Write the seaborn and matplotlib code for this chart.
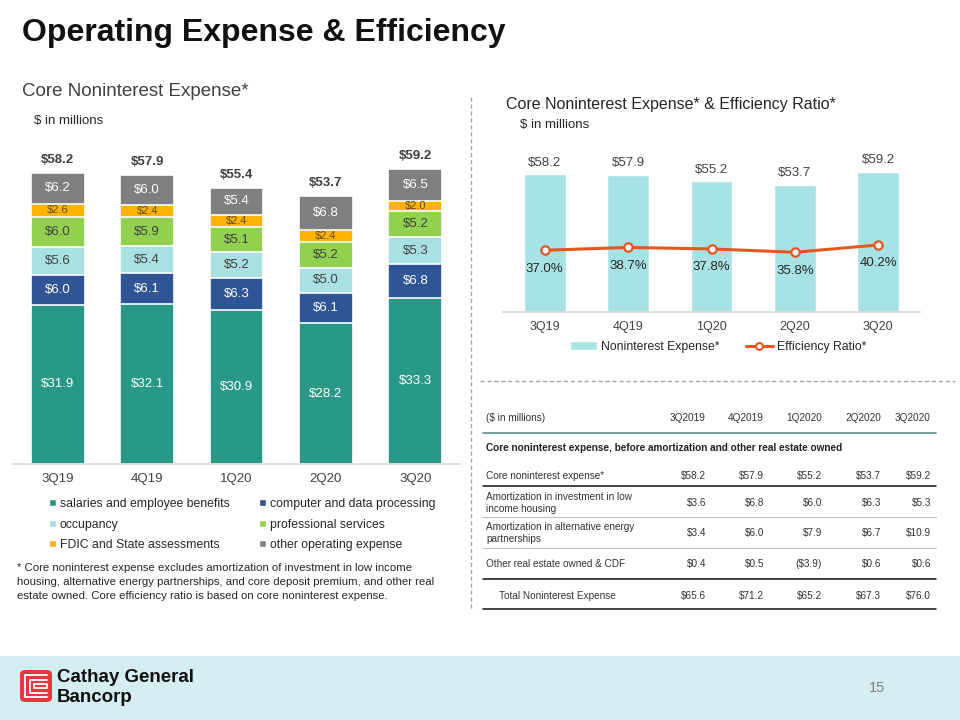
import numpy as np
import matplotlib.pyplot as plt
import seaborn as sns
from matplotlib.patches import Patch, Rectangle, FancyBboxPatch
from matplotlib.lines import Line2D

# ---- data ----
quarters = ["3Q19", "4Q19", "1Q20", "2Q20", "3Q20"]

salaries = [31.9, 32.1, 30.9, 28.2, 33.3]
computer = [6.0, 6.1, 6.3, 6.1, 6.8]
occupancy = [5.6, 5.4, 5.2, 5.0, 5.3]
professional = [6.0, 5.9, 5.1, 5.2, 5.2]
fdic = [2.6, 2.4, 2.4, 2.4, 2.0]
other = [6.2, 6.0, 5.4, 6.8, 6.5]
stack_totals = [58.2, 57.9, 55.4, 53.7, 59.2]

layer_names = ["salaries and employee benefits", "computer and data processing",
               "occupancy", "professional services",
               "FDIC and State assessments", "other operating expense"]
layer_colors = ["#2A9886", "#2F5597", "#A9E1E3", "#92D050", "#FFB300", "#7F7F7F"]
layer_text = ["white", "white", "#404040", "#404040", "#5a4a1a", "white"]

core_expense = [58.2, 57.9, 55.2, 53.7, 59.2]
efficiency = [37.0, 38.7, 37.8, 35.8, 40.2]

table_cols = ["3Q2019", "4Q2019", "1Q2020", "2Q2020", "3Q2020"]
row_core = [58.2, 57.9, 55.2, 53.7, 59.2]
row_lihtc = [3.6, 6.8, 6.0, 6.3, 5.3]
row_energy = [3.4, 6.0, 7.9, 6.7, 10.9]
row_oreo = [0.4, 0.5, -3.9, 0.6, 0.6]
row_total = [65.6, 71.2, 65.2, 67.3, 76.0]

# ---- style ----
sns.set_theme(style="white")
plt.rcParams['font.family'] = ['Liberation Sans', 'DejaVu Sans']
dark = "#404040"

fig = plt.figure(figsize=(9.6, 7.2), dpi=100)
W, H = 960, 720


def ftext(x, y, s, **kw):
    fig.text(x / W, 1 - y / H, s, **kw)


def hline(x0, x1, y, **kw):
    fig.add_artist(Line2D([x0 / W, x1 / W], [1 - y / H, 1 - y / H],
                          transform=fig.transFigure, **kw))


# titles
ftext(22, 33, "Operating Expense & Efficiency", fontsize=23, fontweight="bold",
      color="#111111", va="center")
ftext(22, 92, "Core Noninterest Expense*", fontsize=13.5, color=dark, va="center")
ftext(34, 121, "$ in millions", fontsize=9.5, color="#262626", va="center")
ftext(506, 104, "Core Noninterest Expense* & Efficiency Ratio*", fontsize=11.5,
      color="#262626", va="center")
ftext(520, 125, "$ in millions", fontsize=9.5, color="#262626", va="center")

# separators
fig.add_artist(Line2D([471 / W, 471 / W], [1 - 97 / H, 1 - 610 / H], transform=fig.transFigure,
                      color="#A6A6A6", lw=1, ls=(0, (3, 2))))
hline(480, 955, 381, color="#A6A6A6", lw=1, ls=(0, (3, 2)))

# ---- left stacked chart ----
ax = fig.add_axes([13 / W, 1 - 464 / H, 447 / W, 324 / H])
layers = [salaries, computer, occupancy, professional, fdic, other]
cum = np.cumsum(np.array(layers), axis=0)
for i in range(len(layers) - 1, -1, -1):
    sns.barplot(x=quarters, y=cum[i], color=layer_colors[i], saturation=1, width=0.6,
                edgecolor="white", linewidth=1.2, ax=ax)

for j in range(len(quarters)):
    base = 0
    for i, vals in enumerate(layers):
        fs = 8 if i == 4 else 9.5
        ax.text(j, base + vals[j] / 2, f"${vals[j]:.1f}", ha="center", va="center",
                fontsize=fs, color=layer_text[i])
        base += vals[j]
    ax.annotate(f"${stack_totals[j]:.1f}", (j, cum[-1][j]), xytext=(0, 5),
                textcoords="offset points", ha="center", va="bottom",
                fontsize=9.5, fontweight="bold", color=dark)

ax.set_xlim(-0.5, 4.5)
ax.set_ylim(0, 64.9)
ax.set_yticks([])
ax.set_xlabel("")
ax.set_ylabel("")
for s in ["top", "left", "right"]:
    ax.spines[s].set_visible(False)
ax.spines["bottom"].set_color("#D9D9D9")
ax.tick_params(axis="x", length=0, pad=6.5, labelsize=9.5, labelcolor=dark)

order = [0, 2, 4, 1, 3, 5]
handles = [Patch(facecolor=layer_colors[i], label=layer_names[i]) for i in order]
ax.legend(handles=handles, loc="upper left", bbox_to_anchor=(49 / W, 1 - 498 / H),
          bbox_transform=fig.transFigure, ncol=2, frameon=False, fontsize=8.8,
          handlelength=0.55, handleheight=0.55, handletextpad=0.35,
          columnspacing=2.4, labelspacing=0.7, borderpad=0, borderaxespad=0,
          labelcolor="#262626")

# footnote
notes = ["* Core noninterest expense excludes amortization of investment in low income",
         "housing, alternative energy partnerships, and core deposit premium, and other real",
         "estate owned. Core efficiency ratio is based on core noninterest expense."]
for k, line in enumerate(notes):
    ftext(17, 568 + 14 * k, line, fontsize=8.2, color="#262626", va="center")

# ---- right chart ----
axr = fig.add_axes([503 / W, 1 - 311.7 / H, 417 / W, 171.7 / H])
sns.barplot(x=quarters, y=core_expense, color="#A7E3E5", saturation=1, width=0.5, ax=axr)
for j, v in enumerate(core_expense):
    axr.annotate(f"${v:.1f}", (j, v), xytext=(0, 4), textcoords="offset points",
                 ha="center", va="bottom", fontsize=9.5, color=dark)
axr.set_xlim(-0.5, 4.5)
axr.set_ylim(0, 72.6)
axr.set_yticks([])
axr.set_xlabel("")
axr.set_ylabel("")
for s in ["top", "left", "right"]:
    axr.spines[s].set_visible(False)
axr.spines["bottom"].set_color("#D9D9D9")
axr.tick_params(axis="x", length=0, pad=7, labelsize=9, labelcolor=dark)

ax2 = axr.twinx()
line_color = "#E4571E"
sns.lineplot(x=np.arange(len(quarters)), y=efficiency, ax=ax2, color=line_color,
             linewidth=2.2, marker="o", markersize=6, markerfacecolor="white",
             markeredgecolor=line_color, markeredgewidth=1.6)
for j, v in enumerate(efficiency):
    ax2.annotate(f"{v:.1f}%", (j, v), xytext=(0, -9), textcoords="offset points",
                 ha="center", va="top", fontsize=9.5, color="#262626")
ax2.set_xlim(-0.5, 4.5)
ax2.set_ylim(0, 103.4)
ax2.set_yticks([])
ax2.set_ylabel("")
for s in ["top", "left", "right", "bottom"]:
    ax2.spines[s].set_visible(False)

rhandles = [Patch(facecolor="#A7E3E5", label="Noninterest Expense*"),
            Line2D([], [], color=line_color, lw=2.2, marker="o", markersize=5,
                   markerfacecolor="white", markeredgewidth=1.5, label="Efficiency Ratio*")]
fig.legend(handles=rhandles, loc="center", bbox_to_anchor=(718 / W, 1 - 347 / H),
           ncol=2, frameon=False, fontsize=8.8, handlelength=2.2, handletextpad=0.3,
           columnspacing=2.2, labelcolor="#262626")

# ---- table ----
col_right = [706, 764, 822, 881, 931]
tfs = 7.2
tcol = "#333333"
ftext(486, 418, "($ in millions)", fontsize=tfs, color=tcol, va="center")
for x, c in zip(col_right, table_cols):
    ftext(x, 418, c, fontsize=tfs, color=tcol, va="center", ha="right")
hline(483, 936, 433, color="#5E8E8E", lw=1.2)
ftext(486, 448, "Core noninterest expense, before amortization and other real estate owned",
      fontsize=tfs, color="#222222", va="center", fontweight="bold")


def money(v):
    return f"(${abs(v):.1f})" if v < 0 else f"${v:.1f}"


rows = [("Core noninterest expense*", row_core, 476, 486, "#111111", 486),
        ("Amortization in investment in low\nincome housing", row_lihtc, 503, 517, "#BFBFBF", 486),
        ("Amortization in alternative energy\npartnerships", row_energy, 533, 548, "#BFBFBF", 486),
        ("Other real estate owned & CDF", row_oreo, 564, 579, "#111111", 486),
        ("Total Noninterest Expense", row_total, 596, 609, "#111111", 499)]
for label, vals, y, ly, lc, lx in rows:
    ftext(lx, y, label, fontsize=tfs, color=tcol, va="center", linespacing=1.35)
    for x, v in zip(col_right, vals):
        ftext(x, y, money(v), fontsize=tfs, color=tcol, va="center", ha="right")
    hline(483, 936, ly, color=lc, lw=1.1 if lc == "#111111" else 0.8)

# ---- footer ----
fig.add_artist(Rectangle((0, 0), 1, 1 - 656 / H, transform=fig.transFigure,
                         facecolor="#D4EEF1", edgecolor="none", zorder=0))
fig.add_artist(FancyBboxPatch((20 / W, 1 - 702 / H), 32 / W, 32 / H,
                              boxstyle="round,pad=0,rounding_size=0.006",
                              transform=fig.transFigure, facecolor="#E2383F",
                              edgecolor="none"))


def fpath(pts, **kw):
    xs = [p[0] / W for p in pts]
    ys = [1 - p[1] / H for p in pts]
    fig.add_artist(Line2D(xs, ys, transform=fig.transFigure, **kw))


fpath([(47, 675), (25, 675), (25, 697), (47, 697)], color="white", lw=1.3)
fpath([(47, 679.5), (29.5, 679.5), (29.5, 692.5), (47, 692.5)], color="white", lw=1.3)
fpath([(34, 684), (47, 684), (47, 688), (34, 688), (34, 684)], color="white", lw=1.3)
ftext(57, 678, "Cathay General", fontsize=13.5, fontweight="bold", color="#111111", va="center")
ftext(57, 697, "Bancorp", fontsize=13.5, fontweight="bold", color="#111111", va="center")
ftext(877, 688, "15", fontsize=10.5, color="#7F7F7F", va="center", ha="center")

plt.savefig("out.png", dpi=100)
